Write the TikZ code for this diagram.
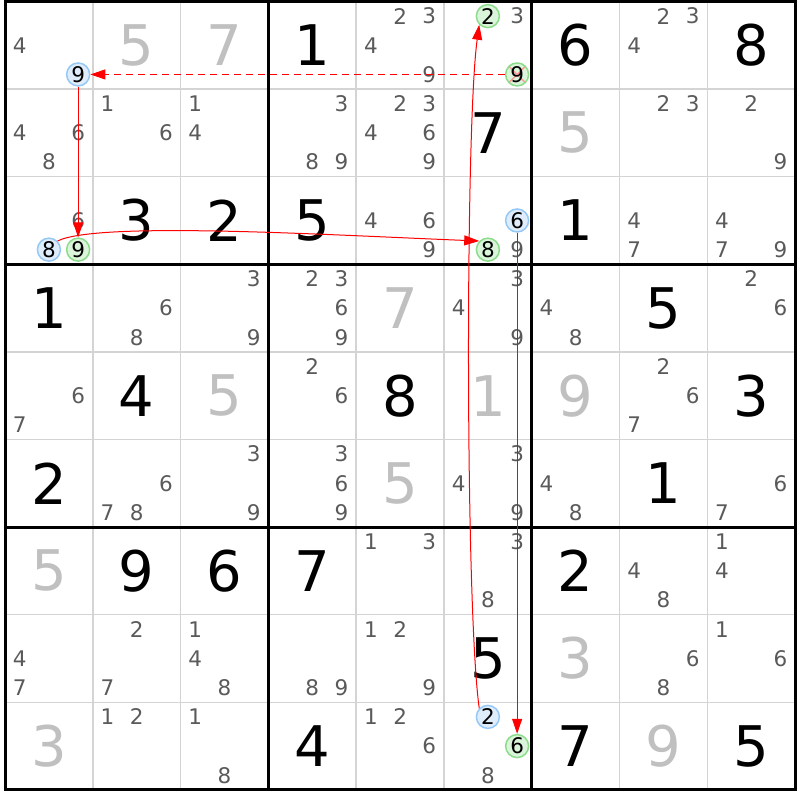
\documentclass[tikz,border=0pt]{standalone}
\usepackage{fontspec}
\setmainfont{DejaVu Sans}
\usetikzlibrary{arrows.meta}
\definecolor{candgray}{RGB}{90,90,90}
\definecolor{placedgray}{RGB}{192,192,192}
\definecolor{linegray}{RGB}{212,212,212}
\definecolor{markblue}{RGB}{150,200,245}
\definecolor{fillblue}{RGB}{222,236,252}
\definecolor{markgreen}{RGB}{140,220,140}
\definecolor{fillgreen}{RGB}{218,245,218}
\begin{document}
\begin{tikzpicture}[x=87.8pt, y=-87.6pt,
  given/.style={font=\fontsize{56}{60}\selectfont, text=black, inner sep=0},
  placed/.style={given, text=placedgray},
  cand/.style={font=\fontsize{21.5}{24}\selectfont, text=candgray, inner sep=0},
  bluemark/.style={circle, draw=markblue, fill=fillblue, line width=1.5pt, minimum size=23pt, inner sep=0, font=\fontsize{21.5}{24}\selectfont, text=black},
  greenmark/.style={bluemark, draw=markgreen, fill=fillgreen},
  struck/.style={path picture={\draw[red!40, line width=1.5pt] (path picture bounding box.north west) -- (path picture bounding box.south east) (path picture bounding box.south west) -- (path picture bounding box.north east);}},
  link/.style={red, line width=1pt, -{Triangle[length=15pt, width=10pt]}},
  thinline/.style={linegray, line width=1.5pt},
  boxline/.style={black, line width=3pt}]
\path[use as bounding box, fill=white] (-0.057,-0.017) rectangle (9.055,9.115);
% cell lines
\draw[thinline] (1,0) -- (1,9);
\draw[thinline] (2,0) -- (2,9);
\draw[thinline] (4,0) -- (4,9);
\draw[thinline] (5,0) -- (5,9);
\draw[thinline] (7,0) -- (7,9);
\draw[thinline] (8,0) -- (8,9);
\draw[thinline] (0,1) -- (9,1);
\draw[thinline] (0,2) -- (9,2);
\draw[thinline] (0,4) -- (9,4);
\draw[thinline] (0,5) -- (9,5);
\draw[thinline] (0,7) -- (9,7);
\draw[thinline] (0,8) -- (9,8);
% box lines
\draw[boxline] (3,0) -- (3,9);
\draw[boxline] (6,0) -- (6,9);
\draw[boxline] (0,3) -- (9,3);
\draw[boxline] (0,6) -- (9,6);
\draw[boxline] (0,0) rectangle (9,9);
% row 0
\node[cand] (r0c0n4) at (0.167,0.5) {4};
\node[bluemark] (r0c0n9) at (0.833,0.833) {9};
\node[placed] (r0c1) at (1.5,0.5) {5};
\node[placed] (r0c2) at (2.5,0.5) {7};
\node[given] (r0c3) at (3.5,0.5) {1};
\node[cand] (r0c4n2) at (4.5,0.167) {2};
\node[cand] (r0c4n3) at (4.833,0.167) {3};
\node[cand] (r0c4n4) at (4.167,0.5) {4};
\node[cand] (r0c4n9) at (4.833,0.833) {9};
\node[greenmark] (r0c5n2) at (5.5,0.167) {2};
\node[cand] (r0c5n3) at (5.833,0.167) {3};
\node[greenmark, struck] (r0c5n9) at (5.833,0.833) {9};
\node[given] (r0c6) at (6.5,0.5) {6};
\node[cand] (r0c7n2) at (7.5,0.167) {2};
\node[cand] (r0c7n3) at (7.833,0.167) {3};
\node[cand] (r0c7n4) at (7.167,0.5) {4};
\node[given] (r0c8) at (8.5,0.5) {8};
% row 1
\node[cand] (r1c0n4) at (0.167,1.5) {4};
\node[cand] (r1c0n6) at (0.833,1.5) {6};
\node[cand] (r1c0n8) at (0.5,1.833) {8};
\node[cand] (r1c1n1) at (1.167,1.167) {1};
\node[cand] (r1c1n6) at (1.833,1.5) {6};
\node[cand] (r1c2n1) at (2.167,1.167) {1};
\node[cand] (r1c2n4) at (2.167,1.5) {4};
\node[cand] (r1c3n3) at (3.833,1.167) {3};
\node[cand] (r1c3n8) at (3.5,1.833) {8};
\node[cand] (r1c3n9) at (3.833,1.833) {9};
\node[cand] (r1c4n2) at (4.5,1.167) {2};
\node[cand] (r1c4n3) at (4.833,1.167) {3};
\node[cand] (r1c4n4) at (4.167,1.5) {4};
\node[cand] (r1c4n6) at (4.833,1.5) {6};
\node[cand] (r1c4n9) at (4.833,1.833) {9};
\node[given] (r1c5) at (5.5,1.5) {7};
\node[placed] (r1c6) at (6.5,1.5) {5};
\node[cand] (r1c7n2) at (7.5,1.167) {2};
\node[cand] (r1c7n3) at (7.833,1.167) {3};
\node[cand] (r1c8n2) at (8.5,1.167) {2};
\node[cand] (r1c8n9) at (8.833,1.833) {9};
% row 2
\node[cand] (r2c0n6) at (0.833,2.5) {6};
\node[bluemark] (r2c0n8) at (0.5,2.833) {8};
\node[greenmark] (r2c0n9) at (0.833,2.833) {9};
\node[given] (r2c1) at (1.5,2.5) {3};
\node[given] (r2c2) at (2.5,2.5) {2};
\node[given] (r2c3) at (3.5,2.5) {5};
\node[cand] (r2c4n4) at (4.167,2.5) {4};
\node[cand] (r2c4n6) at (4.833,2.5) {6};
\node[cand] (r2c4n9) at (4.833,2.833) {9};
\node[bluemark] (r2c5n6) at (5.833,2.5) {6};
\node[greenmark] (r2c5n8) at (5.5,2.833) {8};
\node[cand] (r2c5n9) at (5.833,2.833) {9};
\node[given] (r2c6) at (6.5,2.5) {1};
\node[cand] (r2c7n4) at (7.167,2.5) {4};
\node[cand] (r2c7n7) at (7.167,2.833) {7};
\node[cand] (r2c8n4) at (8.167,2.5) {4};
\node[cand] (r2c8n7) at (8.167,2.833) {7};
\node[cand] (r2c8n9) at (8.833,2.833) {9};
% row 3
\node[given] (r3c0) at (0.5,3.5) {1};
\node[cand] (r3c1n6) at (1.833,3.5) {6};
\node[cand] (r3c1n8) at (1.5,3.833) {8};
\node[cand] (r3c2n3) at (2.833,3.167) {3};
\node[cand] (r3c2n9) at (2.833,3.833) {9};
\node[cand] (r3c3n2) at (3.5,3.167) {2};
\node[cand] (r3c3n3) at (3.833,3.167) {3};
\node[cand] (r3c3n6) at (3.833,3.5) {6};
\node[cand] (r3c3n9) at (3.833,3.833) {9};
\node[placed] (r3c4) at (4.5,3.5) {7};
\node[cand] (r3c5n3) at (5.833,3.167) {3};
\node[cand] (r3c5n4) at (5.167,3.5) {4};
\node[cand] (r3c5n9) at (5.833,3.833) {9};
\node[cand] (r3c6n4) at (6.167,3.5) {4};
\node[cand] (r3c6n8) at (6.5,3.833) {8};
\node[given] (r3c7) at (7.5,3.5) {5};
\node[cand] (r3c8n2) at (8.5,3.167) {2};
\node[cand] (r3c8n6) at (8.833,3.5) {6};
% row 4
\node[cand] (r4c0n6) at (0.833,4.5) {6};
\node[cand] (r4c0n7) at (0.167,4.833) {7};
\node[given] (r4c1) at (1.5,4.5) {4};
\node[placed] (r4c2) at (2.5,4.5) {5};
\node[cand] (r4c3n2) at (3.5,4.167) {2};
\node[cand] (r4c3n6) at (3.833,4.5) {6};
\node[given] (r4c4) at (4.5,4.5) {8};
\node[placed] (r4c5) at (5.5,4.5) {1};
\node[placed] (r4c6) at (6.5,4.5) {9};
\node[cand] (r4c7n2) at (7.5,4.167) {2};
\node[cand] (r4c7n6) at (7.833,4.5) {6};
\node[cand] (r4c7n7) at (7.167,4.833) {7};
\node[given] (r4c8) at (8.5,4.5) {3};
% row 5
\node[given] (r5c0) at (0.5,5.5) {2};
\node[cand] (r5c1n6) at (1.833,5.5) {6};
\node[cand] (r5c1n7) at (1.167,5.833) {7};
\node[cand] (r5c1n8) at (1.5,5.833) {8};
\node[cand] (r5c2n3) at (2.833,5.167) {3};
\node[cand] (r5c2n9) at (2.833,5.833) {9};
\node[cand] (r5c3n3) at (3.833,5.167) {3};
\node[cand] (r5c3n6) at (3.833,5.5) {6};
\node[cand] (r5c3n9) at (3.833,5.833) {9};
\node[placed] (r5c4) at (4.5,5.5) {5};
\node[cand] (r5c5n3) at (5.833,5.167) {3};
\node[cand] (r5c5n4) at (5.167,5.5) {4};
\node[cand] (r5c5n9) at (5.833,5.833) {9};
\node[cand] (r5c6n4) at (6.167,5.5) {4};
\node[cand] (r5c6n8) at (6.5,5.833) {8};
\node[given] (r5c7) at (7.5,5.5) {1};
\node[cand] (r5c8n6) at (8.833,5.5) {6};
\node[cand] (r5c8n7) at (8.167,5.833) {7};
% row 6
\node[placed] (r6c0) at (0.5,6.5) {5};
\node[given] (r6c1) at (1.5,6.5) {9};
\node[given] (r6c2) at (2.5,6.5) {6};
\node[given] (r6c3) at (3.5,6.5) {7};
\node[cand] (r6c4n1) at (4.167,6.167) {1};
\node[cand] (r6c4n3) at (4.833,6.167) {3};
\node[cand] (r6c5n3) at (5.833,6.167) {3};
\node[cand] (r6c5n8) at (5.5,6.833) {8};
\node[given] (r6c6) at (6.5,6.5) {2};
\node[cand] (r6c7n4) at (7.167,6.5) {4};
\node[cand] (r6c7n8) at (7.5,6.833) {8};
\node[cand] (r6c8n1) at (8.167,6.167) {1};
\node[cand] (r6c8n4) at (8.167,6.5) {4};
% row 7
\node[cand] (r7c0n4) at (0.167,7.5) {4};
\node[cand] (r7c0n7) at (0.167,7.833) {7};
\node[cand] (r7c1n2) at (1.5,7.167) {2};
\node[cand] (r7c1n7) at (1.167,7.833) {7};
\node[cand] (r7c2n1) at (2.167,7.167) {1};
\node[cand] (r7c2n4) at (2.167,7.5) {4};
\node[cand] (r7c2n8) at (2.5,7.833) {8};
\node[cand] (r7c3n8) at (3.5,7.833) {8};
\node[cand] (r7c3n9) at (3.833,7.833) {9};
\node[cand] (r7c4n1) at (4.167,7.167) {1};
\node[cand] (r7c4n2) at (4.5,7.167) {2};
\node[cand] (r7c4n9) at (4.833,7.833) {9};
\node[given] (r7c5) at (5.5,7.5) {5};
\node[placed] (r7c6) at (6.5,7.5) {3};
\node[cand] (r7c7n6) at (7.833,7.5) {6};
\node[cand] (r7c7n8) at (7.5,7.833) {8};
\node[cand] (r7c8n1) at (8.167,7.167) {1};
\node[cand] (r7c8n6) at (8.833,7.5) {6};
% row 8
\node[placed] (r8c0) at (0.5,8.5) {3};
\node[cand] (r8c1n1) at (1.167,8.167) {1};
\node[cand] (r8c1n2) at (1.5,8.167) {2};
\node[cand] (r8c2n1) at (2.167,8.167) {1};
\node[cand] (r8c2n8) at (2.5,8.833) {8};
\node[given] (r8c3) at (3.5,8.5) {4};
\node[cand] (r8c4n1) at (4.167,8.167) {1};
\node[cand] (r8c4n2) at (4.5,8.167) {2};
\node[cand] (r8c4n6) at (4.833,8.5) {6};
\node[bluemark] (r8c5n2) at (5.5,8.167) {2};
\node[greenmark] (r8c5n6) at (5.833,8.5) {6};
\node[cand] (r8c5n8) at (5.5,8.833) {8};
\node[given] (r8c6) at (6.5,8.5) {7};
\node[placed] (r8c7) at (7.5,8.5) {9};
\node[given] (r8c8) at (8.5,8.5) {5};
% chain
\draw[link, dash pattern=on 7pt off 5pt] (r0c5n9) -- (r0c0n9);
\draw[link] (r0c0n9) -- (r2c0n9);
\draw[link] (r2c0n8.45) .. controls +(0.456,-0.228) and +(-1.71,-0.068) .. (r2c5n8.135);
\draw[link] (r8c5n2.135) .. controls +(-0.159,-1.142) and +(-0.159,1.142) .. (r0c5n2.-135);
\draw[link] (r2c5n6) -- (r8c5n6);
\end{tikzpicture}
\end{document}
